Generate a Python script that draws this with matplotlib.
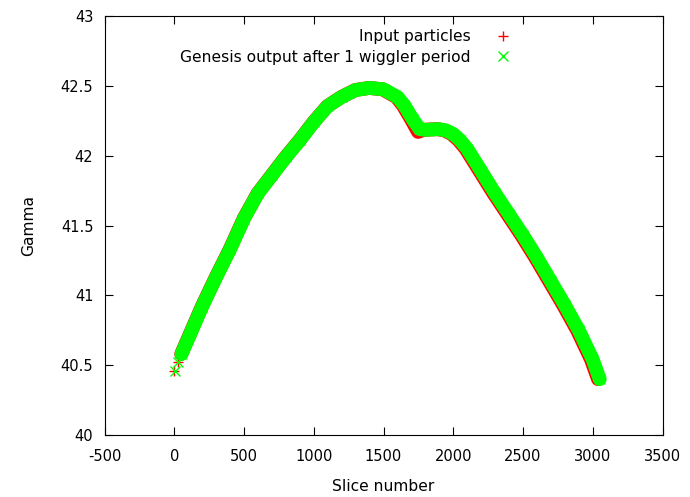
import matplotlib
matplotlib.use("Agg")
import matplotlib.pyplot as plt
from matplotlib.ticker import FormatStrFormatter

plt.rcParams['font.family'] = ['DejaVu Sans']
plt.rcParams['font.size'] = 11.2
plt.rcParams['axes.unicode_minus'] = False

# isolated particles at the head of the bunch
head_slice = [0, 25]
head_gamma = [40.455, 40.525]

# Genesis output after 1 wiggler period (band centre)
out_slice = [52, 100, 200, 300, 400, 500, 600, 700, 800, 900, 1000, 1100,
             1200, 1300, 1400, 1500, 1600, 1650, 1710, 1760, 1800, 1900,
             1950, 2000, 2050, 2100, 2200, 2300, 2400, 2500, 2600, 2700,
             2800, 2900, 3000, 3050]
out_gamma = [40.58, 40.69, 40.92, 41.13, 41.33, 41.55, 41.73, 41.86, 41.99,
             42.11, 42.24, 42.355, 42.42, 42.47, 42.485, 42.475, 42.42, 42.36,
             42.26, 42.19, 42.185, 42.19, 42.18, 42.155, 42.11, 42.05, 41.89,
             41.73, 41.58, 41.43, 41.27, 41.10, 40.93, 40.75, 40.54, 40.40]

# Input particles (band centre, slightly behind the output)
in_slice = [50, 98, 198, 298, 398, 498, 598, 698, 798, 898, 998, 1098,
            1198, 1298, 1398, 1494, 1591, 1639, 1698, 1748, 1788, 1888,
            1938, 1988, 2038, 2088, 2188, 2288, 2388, 2488, 2588, 2688,
            2788, 2888, 2988, 3038]
in_gamma = [40.58, 40.69, 40.92, 41.13, 41.33, 41.55, 41.73, 41.86, 41.99,
            42.11, 42.24, 42.355, 42.42, 42.47, 42.485, 42.475, 42.42, 42.36,
            42.26, 42.17, 42.185, 42.19, 42.18, 42.155, 42.11, 42.05, 41.89,
            41.73, 41.58, 41.43, 41.27, 41.10, 40.93, 40.75, 40.54, 40.40]

red = '#ff0000'
green = '#00ff00'

fig = plt.figure(figsize=(6.9, 4.97), dpi=100)
ax = fig.add_axes([104.5 / 690, 62 / 497, 558 / 690, 419 / 497])

# thick bands made of the particle clouds
ax.plot(in_slice, in_gamma, color=red, lw=10, solid_capstyle='round', zorder=2)
ax.plot(in_slice, in_gamma, '+', color=red, ms=7, mew=1, zorder=2)
ax.plot(head_slice, head_gamma, '+', color=red, ms=7, mew=1, zorder=2,
        label='Input particles')
ax.plot(out_slice, out_gamma, color=green, lw=10, solid_capstyle='round', zorder=3)
ax.plot(out_slice, out_gamma, 'x', color=green, ms=7, mew=1, zorder=3)
ax.plot([s + 3 for s in head_slice], head_gamma, 'x', color=green, ms=7, mew=1,
        zorder=3, label='Genesis output after 1 wiggler period')

ax.set_xlim(-500, 3500)
ax.set_ylim(40, 43)
ax.set_xticks(range(-500, 3501, 500))
ax.set_yticks([40, 40.5, 41, 41.5, 42, 42.5, 43])
ax.yaxis.set_major_formatter(FormatStrFormatter('%g'))
ax.tick_params(direction='in', length=6, width=0.8, top=True, right=True,
               labelsize=10.5)
ax.tick_params(axis='x', pad=10)
ax.tick_params(axis='y', pad=8)
for sp in ax.spines.values():
    sp.set_linewidth(0.8)

ax.set_xlabel('Slice number')
ax.set_ylabel('Gamma')
ax.xaxis.set_label_coords(0.5, -0.105)
ax.yaxis.set_label_coords(-0.122, 0.5)

ax.legend(loc='upper right', bbox_to_anchor=(0.74, 0.968), frameon=False,
          markerfirst=False, handlelength=1.8, handletextpad=1.2,
          borderaxespad=0, borderpad=0, labelspacing=0.35, numpoints=1)

fig.savefig('out.png', dpi=100)
